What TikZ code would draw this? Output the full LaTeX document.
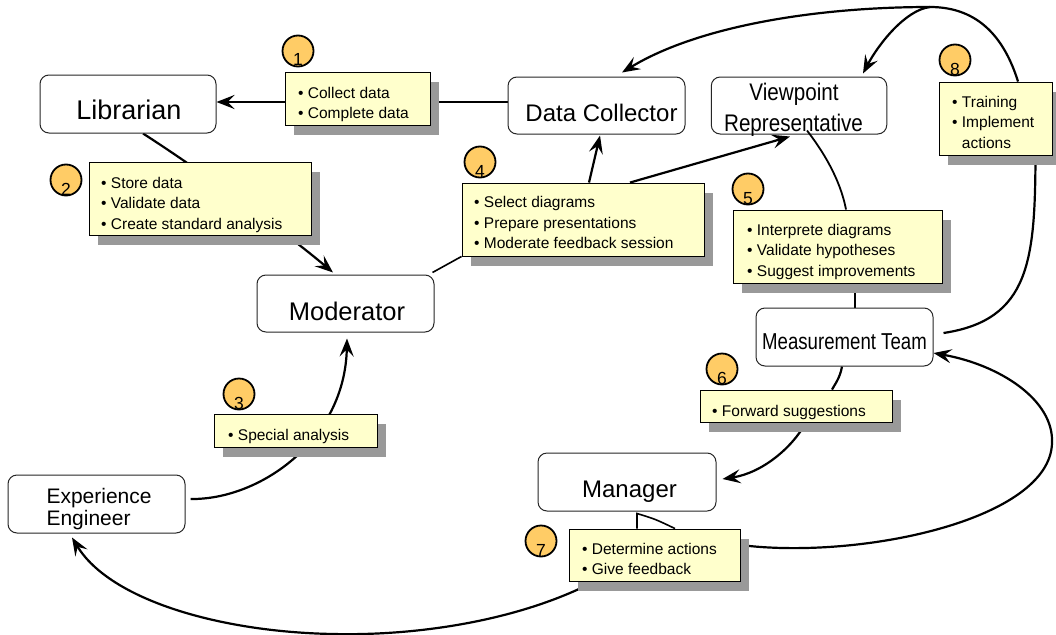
\documentclass[tikz,border=0pt]{standalone}
\usepackage{fontspec}
\usepackage{graphicx}
\setmainfont{Liberation Sans}
\usetikzlibrary{arrows.meta,shadows,backgrounds}

\definecolor{notefill}{HTML}{FFFFCC}
\definecolor{stepfill}{HTML}{FFCC66}
\definecolor{shadowgray}{HTML}{999999}

\tikzset{
  role/.style={draw=black!85, line width=1pt, fill=white, rounded corners=9pt, inner sep=0pt},
  rolelabel/.style={anchor=base, inner sep=0pt},
  note/.style={draw=black, line width=0.9pt, fill=notefill, inner sep=0pt,
    drop shadow={shadow xshift=9pt, shadow yshift=-10pt, fill=shadowgray, opacity=1}},
  notetext/.style={anchor=base west, inner sep=0pt, font=\fontsize{15.5}{20.7}\selectfont},
  badge/.style={circle, draw=black, line width=1.8pt, fill=stepfill, minimum size=31pt, inner sep=0pt},
  badgenum/.style={anchor=base, inner sep=0pt, font=\fontsize{17.5}{18}\selectfont},
  flow/.style={line width=2.2pt, -{Stealth[length=18pt,width=14pt,inset=7pt]}},
  link/.style={line width=2.2pt},
}

\begin{document}
\begin{tikzpicture}[x=1pt,y=-1pt]
\useasboundingbox (0,0) rectangle (1056,634);

% roles
\node[role, minimum width=176pt, minimum height=58pt] (lib) at (128,104) {};
\node[rolelabel, font=\fontsize{27}{30}\selectfont] (libt) at (129,119) {Librarian};
\node[role, minimum width=177pt, minimum height=57pt] (dc) at (596.5,105.5) {};
\node[rolelabel, font=\fontsize{24}{28}\selectfont] (dct) at (601.5,121) {Data Collector};
\node[role, minimum width=175.5pt, minimum height=57pt] (vp) at (799,105.5) {};
\node[rolelabel, font=\fontsize{24}{28}\selectfont] (vpt1) at (794,100) {\scalebox{0.86}[1]{Viewpoint}};
\node[rolelabel, font=\fontsize{24}{28}\selectfont] (vpt2) at (793.5,131.5) {\scalebox{0.86}[1]{Representative}};
\node[role, minimum width=177pt, minimum height=58pt] (mt) at (844.5,337) {};
\node[rolelabel, font=\fontsize{23}{28}\selectfont] (mtt) at (844.5,349) {\scalebox{0.81}[1]{Measurement Team}};
\node[role, minimum width=177pt, minimum height=57pt] (mod) at (345.5,303.5) {};
\node[rolelabel, font=\fontsize{25.5}{28}\selectfont] (modt) at (347,320) {Moderator};
\node[role, minimum width=178pt, minimum height=58pt] (man) at (627,482) {};
\node[rolelabel, font=\fontsize{24}{28}\selectfont] (mant) at (629.5,497) {Manager};
\node[role, minimum width=177pt, minimum height=58pt] (ee) at (96.5,504) {};
\node[rolelabel, anchor=base west, font=\fontsize{21}{22}\selectfont] (eet1) at (46.3,503) {Experience};
\node[rolelabel, anchor=base west, font=\fontsize{21}{22}\selectfont] (eet2) at (46.3,525) {Engineer};

% activity notes
\node[note, minimum width=145pt, minimum height=53pt] (b1) at (357.5,98.5) {};
\node[notetext] (t1) at (298,98) {\begin{tabular}[t]{@{}l@{}}\textbullet\ Collect data\\ \textbullet\ Complete data\end{tabular}};
\node[note, minimum width=222pt, minimum height=73pt] (b2) at (200,198.5) {};
\node[notetext] (t2) at (101,188) {\begin{tabular}[t]{@{}l@{}}\textbullet\ Store data\\ \textbullet\ Validate data\\ \textbullet\ Create standard analysis\end{tabular}};
\node[note, minimum width=163pt, minimum height=33pt] (b3) at (295.5,430.5) {};
\node[notetext] (t3) at (228,440) {\textbullet\ Special analysis};
\node[note, minimum width=242pt, minimum height=73pt] (b4) at (583,219.5) {};
\node[notetext] (t4) at (474,207.5) {\begin{tabular}[t]{@{}l@{}}\textbullet\ Select diagrams\\ \textbullet\ Prepare presentations\\ \textbullet\ Moderate feedback session\end{tabular}};
\node[note, minimum width=209pt, minimum height=73pt] (b5) at (837.5,246.5) {};
\node[notetext] (t5) at (747,235) {\begin{tabular}[t]{@{}l@{}}\textbullet\ Interprete diagrams\\ \textbullet\ Validate hypotheses\\ \textbullet\ Suggest improvements\end{tabular}};
\node[note, minimum width=192pt, minimum height=32pt] (b6) at (796,406) {};
\node[notetext] (t6) at (712,416) {\textbullet\ Forward suggestions};
\node[note, minimum width=171pt, minimum height=52pt] (b7) at (654.5,555) {};
\node[notetext] (t7) at (582,554) {\begin{tabular}[t]{@{}l@{}}\textbullet\ Determine actions\\ \textbullet\ Give feedback\end{tabular}};
\node[note, minimum width=113pt, minimum height=73pt] (b8) at (995.5,118.5) {};
\node[notetext] (t8) at (952,107) {\begin{tabular}[t]{@{}l@{}}\textbullet\ Training\\ \textbullet\ Implement\\ \hphantom{\textbullet\ }actions\end{tabular}};

% step numbers
\node[badge] (c1) at (298,51) {};   \node[badgenum] (n1) at (298,66) {1};
\node[badge] (c2) at (66,180) {};   \node[badgenum] (n2) at (66,195) {2};
\node[badge] (c3) at (239,394) {};  \node[badgenum] (n3) at (239,409) {3};
\node[badge] (c4) at (480,162) {};  \node[badgenum] (n4) at (480,177) {4};
\node[badge] (c5) at (748,189) {};  \node[badgenum] (n5) at (748,204) {5};
\node[badge] (c6) at (722,369) {};  \node[badgenum] (n6) at (722,384) {6};
\node[badge] (c7) at (541,541) {};  \node[badgenum] (n7) at (541,556) {7};
\node[badge] (c8) at (955,60) {};   \node[badgenum] (n8) at (955,75) {8};

\coordinate (apex) at (930,7);

% connectors running under the boxes
\begin{pgfonlayer}{background}
\fill[white] (0,0) rectangle (1056,634);
\draw[flow, line width=2.8pt] ([yshift=3.5pt]dc.west) -- ([yshift=2pt]lib.east);
\draw[flow] ([xshift=15pt]lib.south) .. controls (200,170) and (285,232) .. ([xshift=-12.5pt,yshift=2pt]mod.north);
\draw[flow] ([xshift=5pt,yshift=5pt]ee.east) .. controls (260,500) and (345,440) .. ([xshift=1.5pt,yshift=-6pt]mod.south);
\draw[flow] ([xshift=6pt]b4.north) -- ([xshift=3.5pt,yshift=-1pt]dc.south);
\draw[flow] ([xshift=47pt]b4.north) -- ([xshift=-9pt,yshift=-2pt]vp.south);
\draw[link, line width=1.6pt] ([xshift=-2pt,yshift=2pt]mod.north east) -- (b4.south west);
\draw[link] ([xshift=17.5pt]b5.south) -- ([xshift=10.5pt]mt.north);
\draw[link] ([xshift=-2.5pt]mt.south) .. controls (840,378) and (835,384) .. ([xshift=36pt]b6.north);
\draw[flow] ([xshift=10pt]b6.south) .. controls (792,448) and (762,473) .. ([xshift=6pt,yshift=3pt]man.east);
\draw[flow] ([xshift=-60pt]b7.south) .. controls (520,620) and (420,636) .. (333,634)
  .. controls (220,632) and (110,600) .. ([xshift=-24.5pt,yshift=-4pt]ee.south);
\draw[flow] ([yshift=10pt]b7.east) .. controls (860,560) and (1050,520) .. (1052,443)
  .. controls (1054,400) and (1000,365) .. ([yshift=-16pt]mt.east);
\draw[link] ([xshift=40pt]b8.south) .. controls (1035,260) and (1030,320) .. ([xshift=10pt,yshift=4pt]mt.east);
\draw[flow] ([xshift=22.5pt]b8.north) .. controls (1005,40) and (980,7) .. (apex)
  .. controls (820,7) and (700,25) .. ([xshift=25.5pt,yshift=4pt]dc.north);
\draw[flow] (apex) .. controls (905,10) and (878,45) .. ([xshift=64pt,yshift=3pt]vp.north);
\end{pgfonlayer}

% connectors drawn over the boxes
\draw[link, line width=1.8pt] ([xshift=8pt,yshift=4pt]vp.south) .. controls (822,150) and (840,178) .. ([xshift=8.5pt]b5.north);
\draw[link, line width=1.6pt] ([xshift=-17.5pt]b7.north) -- ([xshift=10pt,yshift=-2pt]man.south)
  .. controls (655,519) .. ([xshift=20.5pt]b7.north);
\end{tikzpicture}
\end{document}
